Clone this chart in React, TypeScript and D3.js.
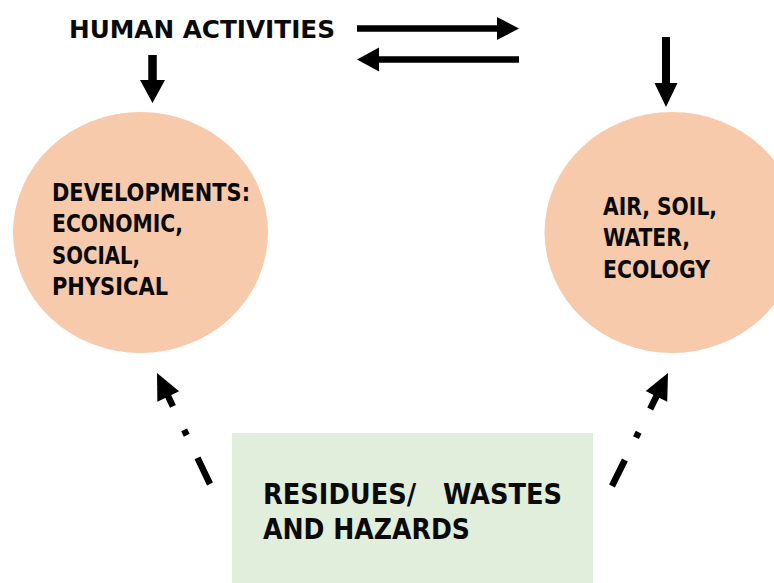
import React from "react";
import * as d3 from "d3";

// labels
const titleLabel = "HUMAN ACTIVITIES";
const developmentLines = ["DEVELOPMENTS:", "ECONOMIC,", "SOCIAL,", "PHYSICAL"];
const environmentLines = ["AIR, SOIL,", "WATER,", "ECOLOGY"];
const wasteLines = ["RESIDUES/   WASTES", "AND HAZARDS"];

// measured widths of each text line (px), so the condensed look matches
const developmentWidths = [198, 131, 88, 116];
const environmentWidths = [114, 87, 107];
const wasteWidths = [299, 207];

const W = 774;
const H = 583;
const FONT = "'DejaVu Sans Condensed', 'DejaVu Sans', sans-serif";
const PEACH = "#f6caab";
const GREEN = "#e1eedb";

// solid arrow as one polygon: shaft + head
function solidArrow(x1: number, y1: number, x2: number, y2: number, shaftW: number, headL: number, headW: number) {
  const dx = x2 - x1, dy = y2 - y1;
  const len = Math.hypot(dx, dy);
  const ux = dx / len, uy = dy / len;
  const px = -uy, py = ux;
  const bx = x2 - ux * headL, by = y2 - uy * headL;
  const s = shaftW / 2, h = headW / 2;
  const pts: [number, number][] = [
    [x1 + px * s, y1 + py * s],
    [bx + px * s, by + py * s],
    [bx + px * h, by + py * h],
    [x2, y2],
    [bx - px * h, by - py * h],
    [bx - px * s, by - py * s],
    [x1 - px * s, y1 - py * s],
  ];
  return d3.line()(pts) + "Z";
}

function DashedArrow({ x1, y1, x2, y2 }: { x1: number; y1: number; x2: number; y2: number }) {
  const dx = x2 - x1, dy = y2 - y1;
  const len = Math.hypot(dx, dy);
  const ux = dx / len, uy = dy / len;
  const px = -uy, py = ux;
  const headL = 26, headW = 24;
  const bx = x2 - ux * headL, by = y2 - uy * headL;
  const head = d3.line()([
    [bx + px * headW / 2, by + py * headW / 2],
    [x2, y2],
    [bx - px * headW / 2, by - py * headW / 2],
  ]) + "Z";
  return (
    <g>
      <line x1={x1} y1={y1} x2={bx + ux * 2} y2={by + uy * 2} stroke="#000" strokeWidth={6.5}
        strokeDasharray="29 25 6 26 20" />
      <path d={head} fill="#000" />
    </g>
  );
}

function Lines({ lines, widths, x, y0, step, size }: { lines: string[]; widths: number[]; x: number; y0: number; step: number; size: number }) {
  return (
    <g>
      {lines.map((t, i) => (
        <text key={i} x={x} y={y0 + i * step} fontSize={size} fontWeight="bold" fontFamily={FONT}
          fill="#0a0a0a" textLength={widths[i]} lengthAdjust="spacingAndGlyphs" style={{ whiteSpace: "pre" }}>
          {t}
        </text>
      ))}
    </g>
  );
}

export default function App() {
  return (
    <svg width={W} height={H} style={{ position: "absolute", left: 0, top: 0, background: "#fff" }}>
      {/* nodes */}
      <ellipse cx={140.5} cy={232.5} rx={127.5} ry={120.5} fill={PEACH} />
      <ellipse cx={672} cy={232.5} rx={127.5} ry={120.5} fill={PEACH} />
      <rect x={232} y={433} width={361} height={160} fill={GREEN} />

      {/* title */}
      <text x={69} y={37.5} fontSize={25} fontWeight="bold" fontFamily={FONT} fill="#0a0a0a"
        textLength={266} lengthAdjust="spacingAndGlyphs">{titleLabel}</text>

      {/* solid arrows */}
      <path d={solidArrow(357, 28.5, 519, 28.5, 6.5, 22, 23)} fill="#000" />
      <path d={solidArrow(519, 59.5, 357, 59.5, 6.5, 22, 24)} fill="#000" />
      <path d={solidArrow(152.5, 55, 152.5, 103, 8.5, 23, 25)} fill="#000" />
      <path d={solidArrow(666, 37, 666, 107, 8, 24, 23)} fill="#000" />

      {/* dashed arrows */}
      <DashedArrow x1={210} y1={484} x2={157} y2={373} />
      <DashedArrow x1={612} y1={486} x2={668} y2={373} />

      {/* node texts */}
      <Lines lines={developmentLines} widths={developmentWidths} x={52} y0={200.5} step={31.6} size={24} />
      <Lines lines={environmentLines} widths={environmentWidths} x={603} y0={214.5} step={31.5} size={24} />
      <Lines lines={wasteLines} widths={wasteWidths} x={263} y0={503.5} step={35} size={29} />
    </svg>
  );
}
